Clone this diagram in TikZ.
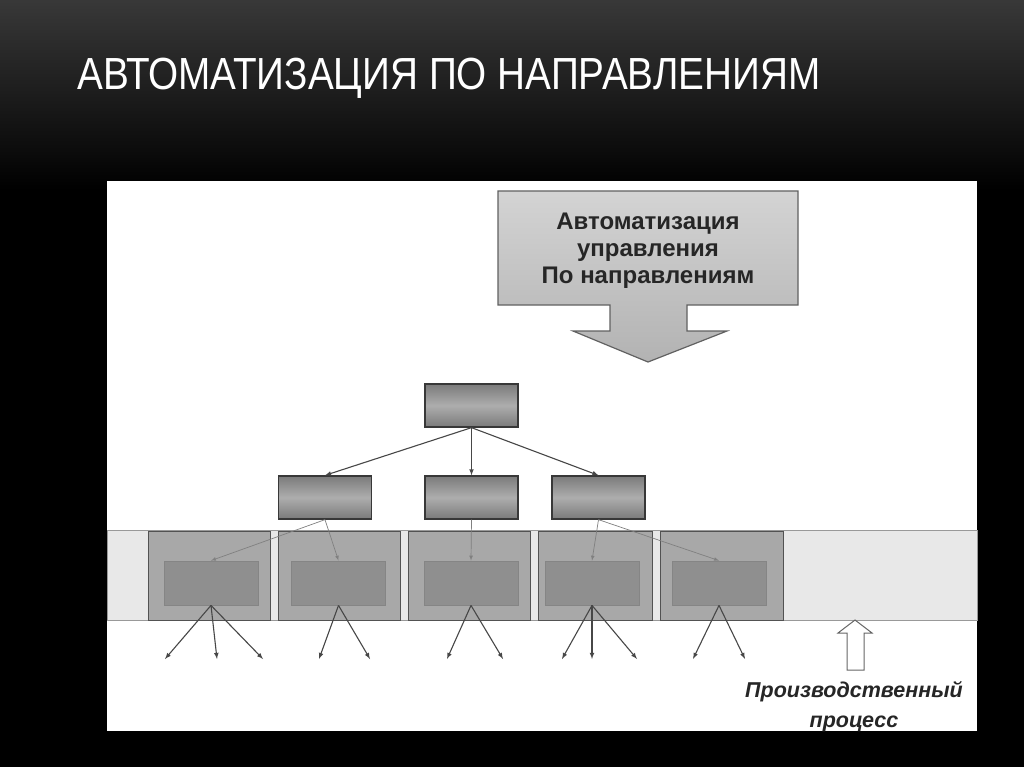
\documentclass[tikz,border=0pt]{standalone}
\usepackage{fontspec}
\setmainfont{Liberation Sans}
\begin{document}
\begin{tikzpicture}[x=1pt,y=-1pt,
  kasten/.style={draw=black!78,line width=1.3pt,minimum width=93pt,minimum height=43pt,
    top color=black!52,bottom color=black!52,middle color=black!32},
  zelle/.style={draw=black!68,line width=1pt,fill=black!34,minimum height=89pt},
  innen/.style={draw=black!48,line width=.8pt,fill=black!44,minimum width=94pt,minimum height=44pt},
  pfeil/.style={-latex,black!72,line width=1.1pt},
  duenn/.style={-latex,black!50,line width=.7pt}]
\def \yo {405.5};
\def \ym {497.5};
\def \yz {575.5};
\def \yi {583};
\useasboundingbox (0,0) rectangle (1024,767);
% Hintergrund
\fill[black] (0,0) rectangle (1024,767);
\shade[top color=black!78,bottom color=black] (0,0) rectangle (1024,190);
\fill[white] (107,181) rectangle (977,731);
\node[anchor=base west,text=white,inner sep=0] (titel) at (77,90)
  {\scalebox{0.86}[1]{\fontsize{45}{45}\selectfont АВТОМАТИЗАЦИЯ ПО НАПРАВЛЕНИЯМ}};

% Kasten oben mit Pfeil
\shade[top color=black!17,bottom color=black!30,draw=black!62,line width=1.2pt]
  (498,191) -- (798,191) -- (798,305) -- (687,305) -- (687,331) -- (727,331)
  -- (648,362) -- (573,331) -- (610,331) -- (610,305) -- (498,305) -- cycle;
\node[align=center,inner sep=0,text=black!85,font=\bfseries\fontsize{24}{27}\selectfont]
  (kopf) at (648,251) {Автоматизация\\управления\\По направлениям};

% Band mit Zellen
\draw[black!40,fill=black!9,line width=.8pt] (107,530) rectangle (977,620);
\foreach \n/\xz/\bz/\xi in {1/209/122/211,2/339/122/338.5,3/469/122/471,4/595/114/592,5/721.5/123/719}
{
  \node[zelle,minimum width=\bz pt] (z\n) at (\xz,\yz) {};
  \node[innen] (i\n) at (\xi,\yi) {};
}

% Baum
\node[kasten] (oben) at (471.5,\yo) {};
\node[kasten] (ml) at (325,\ym) {};
\node[kasten] (mm) at (471.5,\ym) {};
\node[kasten] (mr) at (598.5,\ym) {};
\foreach \k in {ml,mm,mr}
\draw[pfeil] (oben.south) -- (\k.north);
\draw[duenn] (ml.south) -- (i1.north);
\draw[duenn] (ml.south) -- (i2.north);
\draw[duenn] (mm.south) -- (i3.north);
\draw[duenn] (mr.south) -- (i4.north);
\draw[duenn] (mr.south) -- (i5.north);

% Pfeile nach unten
\foreach \x [count=\k] in {165,217,263,319,370,447,503,562,592,637,693,745}
\coordinate (e\k) at (\x,659);
\foreach \s/\k in {1/1,1/2,1/3,2/4,2/5,3/6,3/7,4/8,4/9,4/10,5/11,5/12}
\draw[pfeil] (i\s.south) -- (e\k);

% Produktion
\draw[black!60,line width=1pt,fill=white] (855,620) -- (872,633) -- (864,633) -- (864,670)
  -- (847,670) -- (847,633) -- (838,633) -- cycle;
\node[align=center,inner sep=0,text=black!85,font=\bfseries\itshape\fontsize{21.5}{30}\selectfont]
  (prozess) at (854,707) {Производственный\\процесс};
\end{tikzpicture}
\end{document}
